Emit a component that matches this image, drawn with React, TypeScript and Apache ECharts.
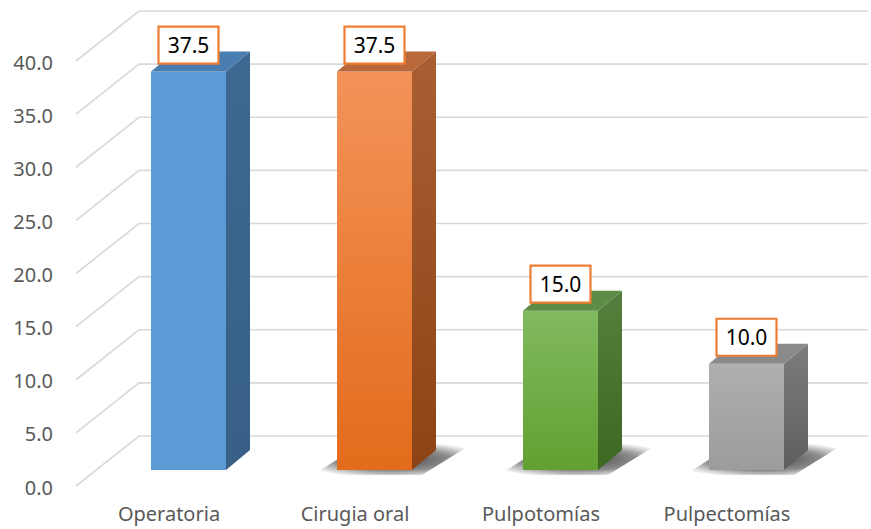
import React, { useEffect, useRef } from "react";
import * as echarts from "echarts";

const categories = ["Operatoria", "Cirugia oral", "Pulpotomías", "Pulpectomías"];
const values = [37.5, 37.5, 15.0, 10.0];
const gridTicks = [0, 5, 10, 15, 20, 25, 30, 35, 40];

const faceColors = [
  { front: ["#5B9BD5", "#5B9BD5"], side: ["#3D6892", "#386086"], top: "#4A7DB0", shadow: false },
  { front: ["#F39359", "#E36B1B"], side: ["#A85F34", "#8C4416"], top: "#B8683A", shadow: true },
  { front: ["#81BA5F", "#61A031"], side: ["#557F3E", "#3C6821"], top: "#5E8C46", shadow: true },
  { front: ["#AFAFAF", "#9C9C9C"], side: ["#7D7D7D", "#5E5E5E"], top: "#8A8A8A", shadow: true },
];

const FONT = "'Noto Sans', sans-serif";

export default function App() {
  const ref = useRef<HTMLDivElement>(null);
  useEffect(() => {
    if (!ref.current) return;
    document.body.style.margin = "0";
    const chart = echarts.init(ref.current, null, { renderer: "svg" });
    const grad = (c: string[]) =>
      new echarts.graphic.LinearGradient(0, 0, 0, 1, [
        { offset: 0, color: c[0] },
        { offset: 1, color: c[1] },
      ]);
    const shadowFill = () =>
      new echarts.graphic.RadialGradient(0.5, 0.5, 0.6, [
        { offset: 0, color: "rgba(0,0,0,0.75)" },
        { offset: 0.6, color: "rgba(0,0,0,0.45)" },
        { offset: 1, color: "rgba(0,0,0,0)" },
      ]);
    const option: any = {
      animation: false,
      backgroundColor: "#ffffff",
      grid: { left: 76, right: 51, top: 62, bottom: 42, containLabel: false },
      xAxis: {
        type: "category",
        data: categories,
        axisLine: { show: false },
        axisTick: { show: false },
        splitLine: { show: false },
        axisLabel: { color: "#595959", fontSize: 20, fontFamily: FONT, margin: 16 },
      },
      yAxis: {
        type: "value",
        min: 0,
        max: 40,
        interval: 5,
        axisLine: { show: false },
        axisTick: { show: false },
        splitLine: { show: false },
        axisLabel: {
          color: "#595959",
          fontSize: 20,
          fontFamily: FONT,
          margin: 23,
          formatter: (v: number) => v.toFixed(1),
        },
      },
      series: [
        {
          type: "custom",
          clip: false,
          silent: true,
          data: gridTicks.map((t) => [0, t]),
          renderItem: (params: any, api: any) => {
            const v = api.value(1);
            const p = api.coord([0, v]);
            const bw = api.size([1, 0])[0];
            const left = p[0] - bw / 2;
            return {
              type: "polyline",
              shape: {
                points: [
                  [left, p[1] - 1],
                  [left + 63, p[1] - 51],
                  [868, p[1] - 51],
                ],
              },
              style: { stroke: "#D9D9D9", lineWidth: 1.7, fill: "none" },
            };
          },
        },
        {
          type: "custom",
          clip: false,
          silent: true,
          data: values.map((v, i) => [i, v]),
          renderItem: (params: any, api: any) => {
            const i = api.value(0);
            const v = api.value(1);
            const c = api.coord([i, v]);
            const c0 = api.coord([i, 0]);
            const cx = c[0] + 19.5;
            const w = 75;
            const fx = cx - w / 2;
            const ty = c[1] - 17;
            const by = c0[1] - 17;
            const dx = 24;
            const dy = -20;
            const col = faceColors[i];
            const children: any[] = [];
            if (col.shadow) {
              children.push({
                type: "polygon",
                shape: {
                  points: [
                    [fx - 24, by + 5],
                    [fx + w + 10, by + 5],
                    [fx + w + dx + 36, by + dy - 6],
                    [fx + dx, by + dy - 6],
                  ],
                },
                style: { fill: shadowFill() },
              });
            }
            children.push({
              type: "rect",
              shape: { x: fx, y: ty, width: w, height: by - ty },
              style: { fill: grad(col.front) },
            });
            children.push({
              type: "polygon",
              shape: {
                points: [
                  [fx + w, ty],
                  [fx + w + dx, ty + dy],
                  [fx + w + dx, by + dy],
                  [fx + w, by],
                ],
              },
              style: { fill: grad(col.side) },
            });
            children.push({
              type: "polygon",
              shape: {
                points: [
                  [fx, ty],
                  [fx + dx, ty + dy],
                  [fx + w + dx, ty + dy],
                  [fx + w, ty],
                ],
              },
              style: { fill: col.top },
            });
            const bh = 37;
            const bwid = 60;
            const boxBottom = ty - 8;
            children.push({
              type: "rect",
              shape: { x: cx - bwid / 2, y: boxBottom - bh, width: bwid, height: bh },
              style: { fill: "#ffffff", stroke: "#ED7D31", lineWidth: 2.2 },
            });
            children.push({
              type: "text",
              x: cx,
              y: boxBottom - bh / 2,
              style: {
                text: v.toFixed(1),
                fill: "#000000",
                fontSize: 21,
                fontFamily: FONT,
                align: "center",
                verticalAlign: "middle",
              },
            });
            return { type: "group", children };
          },
        },
      ],
    };
    chart.setOption(option);
    return () => chart.dispose();
  }, []);
  return (
    <div
      ref={ref}
      style={{ position: "fixed", left: 0, top: 0, width: 871, height: 529 }}
    />
  );
}
